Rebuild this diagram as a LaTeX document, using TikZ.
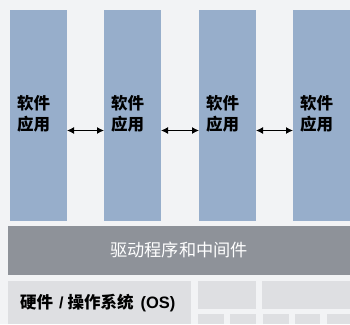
\documentclass[tikz,border=0pt]{standalone}
\usepackage{fontspec}
\setmainfont{Noto Sans CJK SC}
\newfontfamily\latinfont{Liberation Sans}
\usetikzlibrary{arrows.meta}
\definecolor{bgc}{HTML}{F2F3F5}
\definecolor{appc}{HTML}{97AECB}
\definecolor{midc}{HTML}{8E9299}
\definecolor{hwc}{HTML}{DEDFE2}
\tikzset{
  appbox/.style={fill=appc, draw=none, anchor=north west, minimum width=57pt, minimum height=211pt, inner sep=0pt},
  apptext/.style={anchor=west, align=left, font=\fontsize{16.5}{21}\selectfont\bfseries, text=black, inner sep=0pt},
  link/.style={{Latex[length=7pt,width=7pt]}-{Latex[length=7pt,width=7pt]}, line width=1.2pt, black},
  hwbox/.style={fill=hwc, draw=none, anchor=north west, inner sep=0pt},
}
\begin{document}
\begin{tikzpicture}[x=1pt,y=-1pt]
\useasboundingbox (0,0) rectangle (350,324);
\clip (0,0) rectangle (350,324);
\fill[bgc] (0,0) rectangle (350,324);
% application boxes
\node[appbox] (a1) at (10,10) {};
\node[appbox] (a2) at (104,10) {};
\node[appbox] (a3) at (199,10) {};
\node[appbox] (a4) at (293,10) {};
\node[apptext] (t1) at (17,114) {软件\\应用};
\node[apptext] (t2) at (111,114) {软件\\应用};
\node[apptext] (t3) at (206,114) {软件\\应用};
\node[apptext] (t4) at (300,114) {软件\\应用};
% arrows
\coordinate (l1) at (67,130.5); \coordinate (r1) at (104,130.5);
\coordinate (l2) at (161,130.5); \coordinate (r2) at (199,130.5);
\coordinate (l3) at (256,130.5); \coordinate (r3) at (293,130.5);
\draw[link] (l1) -- (r1);
\draw[link] (l2) -- (r2);
\draw[link] (l3) -- (r3);
% middleware bar
\node[fill=midc, anchor=north west, minimum width=342pt, minimum height=49pt, inner sep=0pt] (mw) at (8,226) {};
\node[text=white, font=\fontsize{17.2}{20}\selectfont] (mwt) at (179,250) {驱动程序和中间件};
% hardware / OS
\node[hwbox, minimum width=183pt, minimum height=43pt] (hw) at (8,281) {};
\node[anchor=west, inner sep=0pt, font=\fontsize{16.5}{20}\selectfont\bfseries] (hwt) at (20,303.5) {硬件\hspace{6pt}{\latinfont\fontsize{16}{20}\selectfont\bfseries /}\hspace{4pt}操作系统\hspace{7pt}{\latinfont\fontsize{16.5}{20}\selectfont\bfseries (OS)}};
\node[hwbox, minimum width=58pt, minimum height=28pt] (h1) at (198,281) {};
\node[hwbox, minimum width=88pt, minimum height=28pt] (h2) at (262,281) {};
\node[hwbox, minimum width=26pt, minimum height=10pt] (h3) at (198,314) {};
\node[hwbox, minimum width=26pt, minimum height=10pt] (h4) at (230,314) {};
\node[hwbox, minimum width=26pt, minimum height=10pt] (h5) at (263,314) {};
\node[hwbox, minimum width=25pt, minimum height=10pt] (h6) at (295,314) {};
\node[hwbox, minimum width=23pt, minimum height=10pt] (h7) at (327,314) {};
\end{tikzpicture}
\end{document}
